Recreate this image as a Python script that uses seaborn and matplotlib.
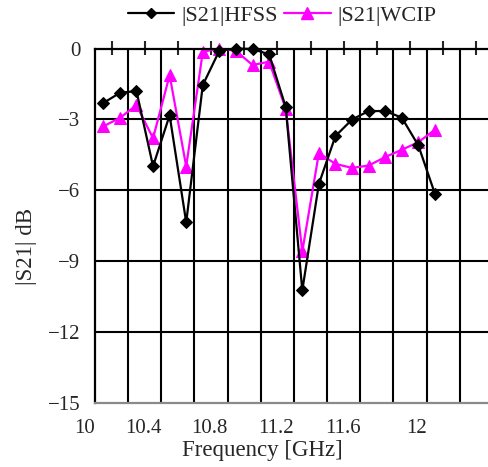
import numpy as np
import pandas as pd
import matplotlib
matplotlib.use("Agg")
import matplotlib.pyplot as plt
from matplotlib.lines import Line2D
import seaborn as sns

freq = [10.05, 10.15, 10.25, 10.35, 10.45, 10.55, 10.65, 10.75, 10.85, 10.95,
        11.05, 11.15, 11.25, 11.35, 11.45, 11.55, 11.65, 11.75, 11.85, 11.95, 12.05]
s21_hfss = [-2.31, -1.88, -1.80, -4.99, -2.83, -7.37, -1.55, -0.09, 0.0, -0.02,
            -0.25, -2.48, -10.25, -5.74, -3.71, -3.01, -2.65, -2.65, -2.93, -4.11, -6.16]
s21_wcip = [-3.30, -2.94, -2.40, -3.80, -1.13, -5.00, -0.14, 0.0, -0.10, -0.70,
            -0.56, -2.55, -8.60, -4.43, -4.89, -5.06, -4.96, -4.60, -4.29, -3.97, -3.44]
series_names = ["|S21|HFSS", "|S21|WCIP"]
x_ticks = [10, 10.4, 10.8, 11.2, 11.6, 12]
x_tick_labels = ["10", "10.4", "10.8", "11.2", "11.6", "12"]
y_ticks = [0, -3, -6, -9, -12, -15]

df = pd.DataFrame({
    "freq": freq * 2,
    "s21": s21_hfss + s21_wcip,
    "series": [series_names[0]] * len(freq) + [series_names[1]] * len(freq),
})

sns.set_style("white")
plt.rcParams["font.family"] = ["Liberation Serif", "DejaVu Serif"]
plt.rcParams["axes.unicode_minus"] = True

fig = plt.figure(figsize=(4.89, 4.67), dpi=100)
ax = fig.add_axes([95 / 489, 1 - 402.5 / 467, 398 / 489, 354 / 467])

colors = {"|S21|HFSS": "black", "|S21|WCIP": "#ff00ff"}
markers = {"|S21|HFSS": "D", "|S21|WCIP": "^"}
msizes = {"|S21|HFSS": 6.5, "|S21|WCIP": 9}

ax.set_xlim(10, 12.4)
ax.set_ylim(-15, 0)
for gx in np.arange(10.2, 12.41, 0.2):
    ax.axvline(gx, color="black", lw=1.5, zorder=1)
for gy in y_ticks[1:-1]:
    ax.axhline(gy, color="black", lw=1.5, zorder=1)

for name in series_names:
    sub = df[df["series"] == name]
    sns.lineplot(data=sub, x="freq", y="s21", ax=ax, color=colors[name],
                 marker=markers[name], markersize=msizes[name],
                 markeredgecolor=colors[name], markerfacecolor=colors[name],
                 lw=1.6, legend=False, zorder=3 if name == "|S21|HFSS" else 2,
                 clip_on=False)

ax.set_xticks(x_ticks)
ax.set_xticklabels(x_tick_labels, ha="right")
ax.tick_params(axis="x", length=0, pad=12, labelsize=15)
ax.set_yticks(y_ticks)
ax.tick_params(axis="y", direction="inout", length=9, width=1.5, pad=6,
               labelsize=15, color="black")

for side in ["top", "left"]:
    ax.spines[side].set_color("black")
    ax.spines[side].set_linewidth(1.6)
ax.spines["bottom"].set_color("#8a8a8a")
ax.spines["bottom"].set_linewidth(1.6)
ax.spines["right"].set_visible(False)

top = ax.secondary_xaxis("top")
top.set_xticks(list(np.arange(10.1, 12.4, 0.2)))
top.tick_params(direction="inout", length=10, width=1.5, labeltop=False)
top.spines["top"].set_visible(False)

ax.set_xlabel("Frequency [GHz]", fontsize=16.5)
ax.xaxis.set_label_coords(0.42, -0.105)
ax.set_ylabel("|S21| dB", fontsize=16.5)
ax.yaxis.set_label_coords(-0.146, 0.44)

handles = [Line2D([], [], color=colors[n], marker=markers[n], markersize=msizes[n] - 1,
                  lw=1.6, label=n) for n in series_names]
fig.legend(handles=handles, loc="center", bbox_to_anchor=(282 / 489, 1 - 16 / 467),
           ncol=2, frameon=False, fontsize=16, handlelength=2.1, handletextpad=0.3,
           columnspacing=0.3, borderaxespad=0)

fig.savefig("out.png", dpi=100)
